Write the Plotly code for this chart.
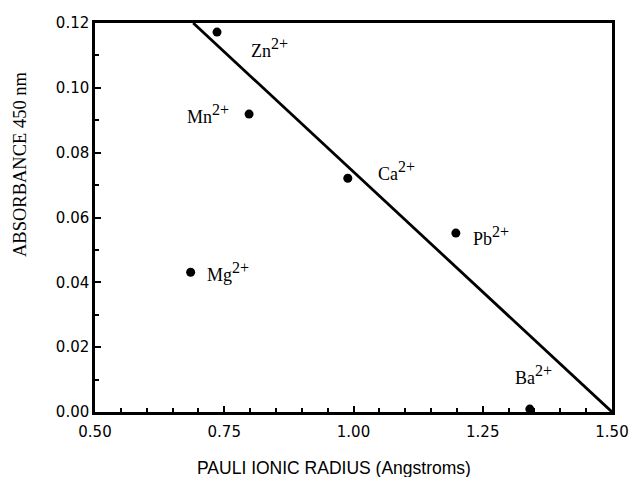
import plotly.graph_objects as go

ions = ["Zn", "Mn", "Ca", "Pb", "Mg", "Ba"]
radius = [0.736, 0.798, 0.989, 1.198, 0.685, 1.341]
absorbance = [0.1172, 0.0919, 0.0721, 0.0552, 0.0431, 0.0009]

# label positions (data coords) and anchors
label_x = [0.797, 0.763, 1.043, 1.227, 0.713, 1.308]
label_y = [0.1123, 0.0919, 0.0743, 0.0543, 0.0432, 0.0114]
label_anchor = ["left", "right", "left", "left", "left", "left"]

fit_x = [0.69, 1.50]
fit_y = [0.12, 0.00]

x_ticks = [0.50, 0.75, 1.00, 1.25, 1.50]
y_ticks = [0.00, 0.02, 0.04, 0.06, 0.08, 0.10, 0.12]

x_title = "PAULI IONIC RADIUS (Angstroms)"
y_title = "ABSORBANCE 450 nm"

fig = go.Figure()
fig.add_trace(go.Scatter(x=fit_x, y=fit_y, mode="lines",
                         line=dict(color="black", width=2.8), showlegend=False, cliponaxis=False))
fig.add_trace(go.Scatter(x=radius, y=absorbance, mode="markers",
                         marker=dict(color="black", size=9), showlegend=False, cliponaxis=False))

for ion, lx, ly, anc in zip(ions, label_x, label_y, label_anchor):
    fig.add_annotation(x=lx, y=ly, text=f"{ion}<sup><span style='font-size:16px'>2+</span></sup>",
                       showarrow=False, xanchor=anc, yanchor="middle",
                       font=dict(family="Liberation Serif", size=18, color="black"))

fig.add_annotation(x=-0.145, y=0.6375, xref="paper", yref="paper", text=y_title, textangle=-90,
                   showarrow=False, xanchor="center", yanchor="middle",
                   font=dict(family="Liberation Serif", size=18.5, color="black"))
fig.add_annotation(x=0.462, y=-0.144, xref="paper", yref="paper", text=x_title,
                   showarrow=False, xanchor="center", yanchor="middle",
                   font=dict(family="Liberation Sans", size=17.5, color="black"))

axis_common = dict(showline=True, linecolor="black", linewidth=2.5, mirror=True,
                   ticks="inside", ticklen=6, tickwidth=2, tickcolor="black",
                   showgrid=False, zeroline=False, automargin=False,
                   tickfont=dict(family="DejaVu Sans", size=15, color="black"))

fig.update_xaxes(range=[0.5, 1.5], tickvals=x_ticks, tickformat=".2f", ticklabelstandoff=4,
                 minor=dict(dtick=0.05, tick0=0.5, ticks="inside", ticklen=4, tickcolor="black", tickwidth=2),
                 **axis_common)
fig.update_yaxes(range=[0, 0.12], tickvals=y_ticks, tickformat=".2f",
                 minor=dict(dtick=0.01, tick0=0, ticks="inside", ticklen=4, tickcolor="black", tickwidth=2),
                 **axis_common)

fig.update_layout(width=629, height=477, margin=dict(l=95, r=17, t=23, b=65),
                  plot_bgcolor="white", paper_bgcolor="white")

fig.write_html("out.html")
